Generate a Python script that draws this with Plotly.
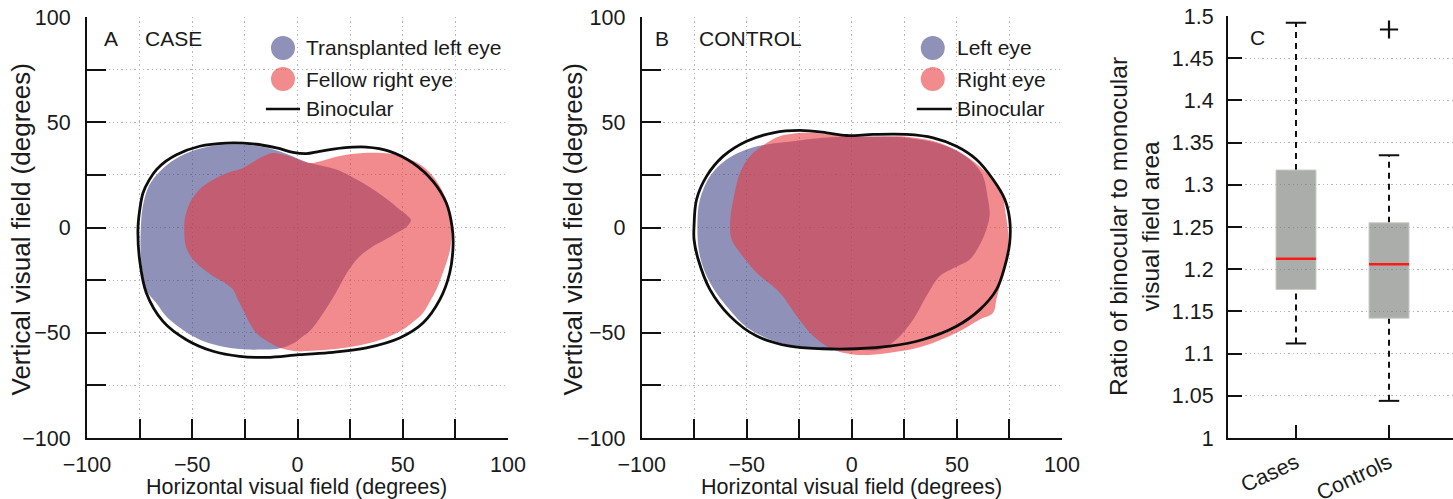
import plotly.graph_objects as go

# ---------------- Panel A (CASE) contours, degrees ----------------
case_left_x = [-74.5, -73.5, -70.5, -65.5, -58, -48, -36, -24, -13, -4, 2, 5.8,
               12, 18.4, 25, 31.1, 36, 40.6, 45, 48.5, 52, 53.9, 52, 47, 41.5, 35.9,
               31.5, 28, 24.5, 21.6, 18.5, 15.3, 12, 9, 6, 2.6, -1, -5.3, -10,
               -17, -24.3, -31, -37, -44, -49.6, -56, -62.3, -67, -71.8, -73.8, -74.5, -74.5]
case_left_y = [-2, 10, 20, 26.5, 32.5, 37, 39.3, 39.3, 37.5, 34.5, 32, 30.6,
               29.2, 27.5, 24.5, 21.1, 18, 14.8, 11.5, 8.5, 5.8, 3.5, 0.5, -2.6, -5.8, -8.9,
               -12, -15.3, -20, -24.8, -30.5, -35.9, -41, -45.4, -49, -51.7, -54.5, -56.5, -57.7,
               -58, -58, -57.4, -56.3, -54.3, -51.7, -47.5, -42.3, -36, -29.7, -20, -12, -2]

case_right_x = [-11.6, -3.7, 2.6, 5.8, 10.5, 20, 31.1, 40, 47, 54, 59.6, 64, 67.6, 70.5,
                72.3, 73.1, 72.5, 70.7, 68.5, 66, 63, 59.6, 55, 50.1, 43, 34.3, 25, 15.3,
                7, -0.6, -5.5, -10, -15, -19.6, -23, -25.9, -28.5, -30.6, -35, -40.1, -45,
                -49.6, -52.5, -53.6, -53.8, -53.6, -51.2, -48.5, -44.9, -40.5, -35.4, -30.5,
                -25.9, -22, -18, -14.5, -11.6]
case_right_y = [35.4, 33.8, 31.4, 30.6, 31.4, 34, 35.4, 35.4, 34.6, 32.2, 29, 24.8, 19.6, 13.5,
                6.9, -4.2, -10.5, -16.9, -23, -29.5, -35, -40.6, -44.8, -48.5, -52, -54.9, -56.8, -58,
                -58.6, -58.8, -58, -56.5, -53.6, -50.1, -45, -39, -34, -29.5, -26, -23.2, -19.5,
                -15.3, -10.5, -5.8, -1, 3.7, 11.6, 15.8, 19.6, 22.5, 25.1, 26.8,
                28.3, 30.5, 33, 34.6, 35.4]

case_bino_x = [-75.8, -75, -73.4, -70.5, -67, -62.5, -57.5, -46.5, -33.8, -21.1, -10, -2.1,
               4.2, 10.5, 21.6, 32.7, 43.8, 54.9, 64.4, 70.7, 73.4, 73.9, 72.3, 67.6, 59.6,
               48.5, 32.7, 16.9, 1.0, -14.8, -27.5, -40.1, -52.8, -63.9, -71.8, -75, -75.8]
case_bino_y = [-1, 8, 16.4, 22.5, 27.5, 31.5, 34.6, 38.6, 40.1, 39.7, 37.8, 35.7,
               35.1, 36.2, 37.8, 38.2, 36.2, 30.6, 21.9, 11.6, 0.6, -8.9, -21.6, -34.3, -45.4,
               -52.5, -57.2, -59.3, -60.4, -61.7, -61.2, -58.8, -53.3, -44.6, -31.1, -15.3, -1]

# ---------------- Panel B (CONTROL) contours, degrees ----------------
ctrl_left_x = [13.3, 21.2, 29.2, 35.5, 41.8, 50, 56.1, 61, 64, 65.6, 64.5, 62.4, 56.1, 45,
               26, 2.2, -13.6, -27.9, -40.6, -50.1, -59.6, -67.5, -72.3, -73.5, -72.3,
               -67.5, -59.6, -48.5, -34.2, -21.6, -5.7, 5, 13.3]
ctrl_left_y = [-58, -53.2, -43.7, -32.6, -23.1, -18.5, -15.2, -8, -0.9, 6, 14.9, 24.4, 32.3, 38.6,
               42.6, 43.1, 42.6, 41, 39.4, 37.1, 32.3, 24.4, 13.3, 0.6, -13.6,
               -26.3, -37.4, -48.5, -54.8, -57.2, -58, -58.2, -58]

ctrl_right_x = [-34.2, -21.6, -5.7, 10.1, 26, 41.8, 54.5, 65.6, 72, 72.7, 74.4, 74.2, 72.8,
                70.8, 68.8, 67.2, 60.9, 49.8, 33.9, 18.1, 3.8, -4.1, -10.5, -18.4, -26.3,
                -34.2, -45.3, -53.2, -57.2, -58, -57.5, -56.4, -53.2, -48.5, -40.6, -34.2]
ctrl_right_y = [43.4, 45, 43.7, 43.1, 43.1, 40.2, 33.9, 24.4, 16.5, 10.1, -2.5, -10, -18.4,
                -26.5, -34.2, -40.5, -43.7, -50, -56.4, -59.5, -60.6, -59.5, -57.2, -51.6, -42.1,
                -31, -21.5, -12, -5.7, 0.6, 7, 13.3, 26, 33.9, 40.2, 43.4]

ctrl_bino_x = [-75.1, -73.9, -69.1, -61.2, -50.1, -37.4, -24.7, -12, -2.5, 10.1, 26, 38.7,
               49.8, 59.3, 67.2, 72.8, 75.1, 75.1, 72.8, 68.8, 60.9, 49.8, 33.9, 18.1, 2.2,
               -13.6, -29.5, -45.3, -58, -67.5, -73.1, -75.1, -75.1]
ctrl_bino_y = [0.6, 13.3, 24.4, 33.9, 41, 45, 46.1, 45, 43.7, 44.2, 44.2, 42.6,
               38.6, 32.3, 22.8, 13.3, 3.8, -7.3, -18.4, -29.5, -39, -46.9, -53.2, -56.4, -57.6,
               -57.6, -56.4, -51.6, -42.1, -29.5, -15.2, -5.7, 0.6]

# ---------------- Panel C box plot summary ----------------
groups = ["Cases", "Controls"]
lower_whisker = [1.112, 1.044]
q1 = [1.176, 1.142]
median = [1.2125, 1.206]
q3 = [1.3175, 1.255]
upper_whisker = [1.492, 1.335]
outliers = [[], [1.484]]

# ---------------- Tick labels ----------------
field_ticks = [-100, -75, -50, -25, 0, 25, 50, 75, 100]
field_ticktext = ["\u2212100", "", "\u221250", "", "0", "", "50", "", "100"]
ratio_ticks = [1, 1.05, 1.1, 1.15, 1.2, 1.25, 1.3, 1.35, 1.4, 1.45, 1.5]
ratio_ticktext = ["1", "1.05", "1.1", "1.15", "1.2", "1.25", "1.3", "1.35", "1.4", "1.45", "1.5"]

# ---------------- Styles ----------------
FONT = "Liberation Sans, Arial, sans-serif"
TXT = "#1a1a1a"
BLUE = "rgba(62,65,134,0.58)"
RED = "rgba(233,55,60,0.58)"
W, H = 1453, 499

fig = go.Figure()


def shape(x, y, color, xa, ya):
    fig.add_trace(go.Scatter(x=x, y=y, mode="lines", fill="toself", fillcolor=color,
                             line=dict(width=0, shape="spline", smoothing=1.0),
                             xaxis=xa, yaxis=ya, hoverinfo="skip", showlegend=False))


def outline(x, y, xa, ya):
    fig.add_trace(go.Scatter(x=x, y=y, mode="lines",
                             line=dict(color="#0d0d0d", width=2.8, shape="spline", smoothing=1.0),
                             xaxis=xa, yaxis=ya, hoverinfo="skip", showlegend=False))


shape(case_left_x, case_left_y, BLUE, "x", "y")
shape(case_right_x, case_right_y, RED, "x", "y")
outline(case_bino_x, case_bino_y, "x", "y")

shape(ctrl_left_x, ctrl_left_y, BLUE, "x2", "y2")
shape(ctrl_right_x, ctrl_right_y, RED, "x2", "y2")
outline(ctrl_bino_x, ctrl_bino_y, "x2", "y2")

# manual legends drawn in data coordinates
annotations = []


def legend(xa, ya, cx, tx, line_x, names):
    rows = [85.3, 70.5, 56.3]
    for col, yy in zip([BLUE, RED], rows[:2]):
        fig.add_trace(go.Scatter(x=[cx], y=[yy], mode="markers",
                                 marker=dict(size=24, color=col, line=dict(width=0)),
                                 xaxis=xa, yaxis=ya, hoverinfo="skip", showlegend=False))
    fig.add_trace(go.Scatter(x=line_x, y=[rows[2], rows[2]], mode="lines",
                             line=dict(color="#0d0d0d", width=2.5),
                             xaxis=xa, yaxis=ya, hoverinfo="skip", showlegend=False))
    for name, yy in zip(names, rows):
        annotations.append(dict(x=tx, y=yy, xref=xa, yref=ya, text=name, showarrow=False,
                                xanchor="left", yanchor="middle",
                                font=dict(family=FONT, size=21, color=TXT)))


legend("x", "y", -6.9, 3.1, [-15.0, 1.2], ["Transplanted left eye", "Fellow right eye", "Binocular"])
legend("x2", "y2", 38.5, 49.0, [30.9, 47.6], ["Left eye", "Right eye", "Binocular"])

# ---------------- Box plot (panel C) ----------------
HW = 0.215   # half box width
CW = 0.11    # half cap width
for i, g in enumerate(groups):
    p = i + 1
    fig.add_trace(go.Scatter(x=[p, p], y=[q3[i], upper_whisker[i]], mode="lines",
                             line=dict(color="#111", width=2, dash="6px,5px"),
                             xaxis="x3", yaxis="y3", hoverinfo="skip", showlegend=False))
    fig.add_trace(go.Scatter(x=[p, p], y=[lower_whisker[i], q1[i]], mode="lines",
                             line=dict(color="#111", width=2, dash="6px,5px"),
                             xaxis="x3", yaxis="y3", hoverinfo="skip", showlegend=False))
    for v in (lower_whisker[i], upper_whisker[i]):
        fig.add_trace(go.Scatter(x=[p - CW, p + CW], y=[v, v], mode="lines",
                                 line=dict(color="#111", width=2),
                                 xaxis="x3", yaxis="y3", hoverinfo="skip", showlegend=False))
    fig.add_trace(go.Scatter(x=[p - HW, p + HW, p + HW, p - HW, p - HW],
                             y=[q1[i], q1[i], q3[i], q3[i], q1[i]], mode="lines",
                             fill="toself", fillcolor="rgba(120,123,120,0.62)",
                             line=dict(color="rgba(200,202,200,1)", width=1),
                             xaxis="x3", yaxis="y3", hoverinfo="skip", showlegend=False))
    fig.add_trace(go.Scatter(x=[p - HW, p + HW], y=[median[i], median[i]], mode="lines",
                             line=dict(color="#ff1a1a", width=2.5),
                             xaxis="x3", yaxis="y3", hoverinfo="skip", showlegend=False))
    if outliers[i]:
        fig.add_trace(go.Scatter(x=[p] * len(outliers[i]), y=outliers[i], mode="markers",
                                 marker=dict(symbol="cross-thin", size=13,
                                             line=dict(color="#111", width=2.2)),
                                 xaxis="x3", yaxis="y3", hoverinfo="skip", showlegend=False))

# ---------------- Axes ----------------
YD = [61 / H, 482 / H]
common = dict(showline=True, linewidth=2, linecolor="#111", ticks="inside", tickwidth=2,
              tickcolor="#111", zeroline=False, mirror=False, fixedrange=True, automargin=False,
              tickfont=dict(family=FONT, size=21.5, color=TXT))
grid = dict(showgrid=True, gridcolor="#b5b5b5", gridwidth=1.3, griddash="1.3px,3px")


def field_x(domain, anchor):
    return dict(domain=domain, anchor=anchor, range=[-100, 100], tickvals=field_ticks,
                ticktext=field_ticktext, ticklen=19, ticklabelstandoff=6, **common, **grid)


def field_y(anchor):
    return dict(domain=YD, anchor=anchor, range=[-100, 100], tickvals=field_ticks,
                ticktext=field_ticktext, ticklen=19, ticklabelstandoff=10, **common, **grid)


layout = dict(
    width=W, height=H, margin=dict(l=0, r=0, t=0, b=0, autoexpand=False),
    paper_bgcolor="white", plot_bgcolor="white", showlegend=False,
    font=dict(family=FONT, color=TXT),
    xaxis=field_x([87 / W, 508 / W], "y"),
    yaxis=field_y("x"),
    xaxis2=field_x([641.7 / W, 1062 / W], "y2"),
    yaxis2=field_y("x2"),
    xaxis3=dict(domain=[1228 / W, 1.0], anchor="y3", range=[0.269, 2.688], tickvals=[1, 2],
                ticktext=groups, ticklen=13, tickangle=-25, showgrid=False, ticklabelstandoff=2,
                **common),
    yaxis3=dict(domain=[61 / H, 483 / H], anchor="x3", range=[1, 1.5], tickvals=ratio_ticks,
                ticktext=ratio_ticktext, ticklen=14, ticklabelstandoff=8, **common, **grid),
)


def px(x):
    return x / W


def py(y):
    return 1 - y / H


def txt(x, y, s, size, xanchor="center", angle=0, xref="paper", yref="paper"):
    annotations.append(dict(x=x, y=y, xref=xref, yref=yref, text=s, showarrow=False,
                            xanchor=xanchor, yanchor="middle", textangle=angle,
                            font=dict(family=FONT, size=size, color=TXT)))


# axis titles
txt(px(296.5), py(487), "Horizontal visual field (degrees)", 21.5)
txt(px(851.7), py(487), "Horizontal visual field (degrees)", 21.5)
txt(px(21), py(229.5), "Vertical visual field (degrees)", 26, angle=-90)
txt(px(573), py(229.5), "Vertical visual field (degrees)", 26, angle=-90)
txt(px(1134), py(227), "Ratio of binocular to monocular<br>visual field area", 24.5, angle=-90)

# panel labels
txt(-93.0, 90.0, "A", 21, xanchor="left", xref="x", yref="y")
txt(-73.4, 90.0, "CASE", 21, xanchor="left", xref="x", yref="y")
txt(-94.6, 90.0, "B", 21, xanchor="left", xref="x2", yref="y2")
txt(-73.7, 90.0, "CONTROL", 21, xanchor="left", xref="x2", yref="y2")
txt(0.484, 1.474, "C", 21, xanchor="left", xref="x3", yref="y3")

layout["annotations"] = annotations
fig.update_layout(**layout)
fig.write_html("out.html", config={"displayModeBar": False},
               post_script="document.body.style.margin='0px';document.body.style.overflow='hidden';")
